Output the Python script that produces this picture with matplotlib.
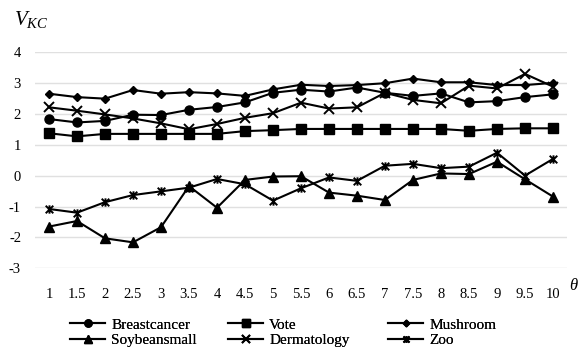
import matplotlib
matplotlib.use("Agg")
import matplotlib.pyplot as plt
from matplotlib.path import Path
import numpy as np

plt.rcParams['font.family'] = ['Liberation Serif', 'DejaVu Serif']
plt.rcParams['mathtext.fontset'] = 'custom'
plt.rcParams['mathtext.rm'] = 'Liberation Serif'
plt.rcParams['mathtext.it'] = 'Liberation Serif:italic'

theta = ['1', '1.5', '2', '2.5', '3', '3.5', '4', '4.5', '5', '5.5',
         '6', '6.5', '7', '7.5', '8', '8.5', '9', '9.5', '10']

breastcancer = [1.83, 1.72, 1.77, 1.97, 1.96, 2.13, 2.22, 2.37, 2.68, 2.78,
                2.72, 2.85, 2.68, 2.58, 2.66, 2.37, 2.41, 2.54, 2.63]
vote = [1.37, 1.27, 1.35, 1.35, 1.35, 1.35, 1.35, 1.44, 1.47, 1.51,
        1.51, 1.51, 1.51, 1.51, 1.51, 1.45, 1.51, 1.53, 1.53]
mushroom = [2.65, 2.54, 2.49, 2.77, 2.65, 2.70, 2.66, 2.58, 2.79, 2.94,
            2.90, 2.93, 2.99, 3.14, 3.02, 3.02, 2.93, 2.93, 3.00]
soybeansmall = [-1.65, -1.47, -2.03, -2.16, -1.67, -0.34, -1.04, -0.14, -0.03, -0.02,
                -0.55, -0.65, -0.79, -0.14, 0.07, 0.05, 0.45, -0.12, -0.68]
dermatology = [2.21, 2.10, 1.98, 1.85, 1.69, 1.50, 1.67, 1.87, 2.02, 2.36,
               2.17, 2.21, 2.68, 2.45, 2.34, 2.91, 2.82, 3.29, 2.88]
zoo = [-1.08, -1.20, -0.86, -0.63, -0.51, -0.39, -0.11, -0.28, -0.81, -0.41,
       -0.06, -0.17, 0.32, 0.38, 0.24, 0.29, 0.74, 0.00, 0.54]

series_names = ['Breastcancer', 'Vote', 'Mushroom', 'Soybeansmall', 'Dermatology', 'Zoo']
yticks = [-3, -2, -1, 0, 1, 2, 3, 4]

# Excel-style "star" marker: an x with a vertical stroke
star = Path([(-1, -1), (1, 1), (-1, 1), (1, -1), (0, -1.1), (0, 1.1)],
            [Path.MOVETO, Path.LINETO, Path.MOVETO, Path.LINETO, Path.MOVETO, Path.LINETO])

W, H = 581, 360
fig = plt.figure(figsize=(W / 100, H / 100), dpi=100)
left, right, top, bottom = 35, 567, 52, 268.3
ax = fig.add_axes([left / W, 1 - bottom / H, (right - left) / W, (bottom - top) / H])

x = np.arange(len(theta))
styles = [
    dict(marker='o', ms=6.5, mfc='black', mec='black'),
    dict(marker='s', ms=6.5, mfc='black', mec='black'),
    dict(marker='D', ms=4.2, mfc='black', mec='black'),
    dict(marker='^', ms=7, mfc='black', mec='black'),
    dict(marker='x', ms=6.5, mew=1.4, mec='black'),
    dict(marker=star, ms=6, mew=1.4, mec='black'),
]
data = [breastcancer, vote, mushroom, soybeansmall, dermatology, zoo]
handles = []
for name, vals, st in zip(series_names, data, styles):
    h, = ax.plot(x, vals, color='black', lw=1.5, label=name, **st)
    handles.append(h)

ax.set_xlim(-0.5, len(theta) - 0.5)
ax.set_ylim(-3, 4)
ax.set_xticks(x)
ax.set_xticklabels(theta)
ax.set_yticks(yticks)
ax.set_yticklabels([str(v) for v in yticks])
ax.yaxis.grid(True, color='#e0e0e0', lw=1)
ax.set_axisbelow(True)
for s in ax.spines.values():
    s.set_visible(False)
ax.tick_params(axis='both', length=0, labelsize=10.5, colors='black')
ax.tick_params(axis='y', pad=10)
ax.tick_params(axis='x', pad=14)

fig.text(14 / W, 1 - 20 / H, r'$V_{KC}$', fontsize=15, va='center', ha='left')
fig.text(569 / W, 1 - 286 / H, r'$\theta$', fontsize=12, va='center', ha='left')

# legend in three columns placed individually
cols = [(70, [0, 3]), (228, [1, 4]), (388, [2, 5])]
for cx, idx in cols:
    lg = fig.legend([handles[i] for i in idx], [series_names[i] for i in idx],
                    loc='upper left', bbox_to_anchor=(cx / W, 1 - 318 / H),
                    frameon=False, borderpad=0, borderaxespad=0,
                    handlelength=2.3, handletextpad=0.4, labelspacing=0.12,
                    markerscale=0.8, fontsize=11)
    fig.add_artist(lg)

fig.savefig('out.png', dpi=100)
